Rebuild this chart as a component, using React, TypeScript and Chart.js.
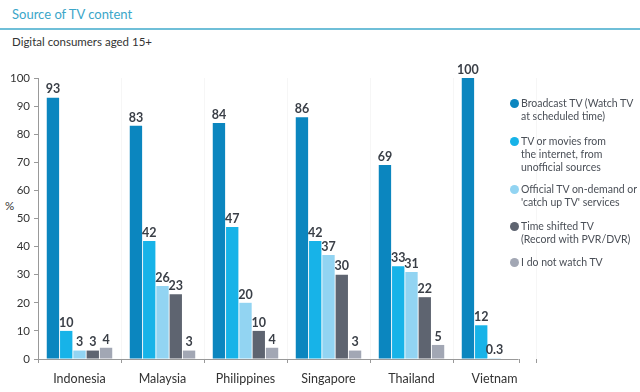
import React, { useEffect, useRef } from "react";
import { Chart, registerables } from "chart.js";
Chart.register(...registerables);

const categories = ["Indonesia", "Malaysia", "Philippines", "Singapore", "Thailand", "Vietnam"];
const seriesNames = [
  ["Broadcast TV (Watch TV", "at scheduled time)"],
  ["TV or movies from", "the internet, from", "unofficial sources"],
  ["Official TV on-demand or", "'catch up TV' services"],
  ["Time shifted TV", "(Record with PVR/DVR)"],
  ["I do not watch TV"],
];
const broadcast = [93, 83, 84, 86, 69, 100];
const internet = [10, 42, 47, 42, 33, 12];
const official = [3, 26, 20, 37, 31, 0.3];
const timeShifted = [3, 23, 10, 30, 22, null];
const notWatch = [4, 3, 4, 3, 5, null];
const colors = ["#0b86bf", "#17b3e8", "#92d4f2", "#5e6470", "#a2a7b4"];
const yTicks = [0, 10, 20, 30, 40, 50, 60, 70, 80, 90, 100];

const FONT = "Lato, 'Open Sans', sans-serif";

const labelPlugin = {
  id: "barLabels",
  afterDatasetsDraw(chart: any) {
    const ctx = chart.ctx;
    ctx.save();
    ctx.font = `bold 12.5px ${FONT}`;
    ctx.fillStyle = "#3a3f47";
    ctx.textAlign = "center";
    ctx.textBaseline = "bottom";
    chart.data.datasets.forEach((ds: any, i: number) => {
      const meta = chart.getDatasetMeta(i);
      meta.data.forEach((el: any, j: number) => {
        const v = ds.data[j];
        if (v === null || v === undefined) return;
        ctx.fillText(String(v), el.x, el.y - 2);
      });
    });
    // x axis baseline, stopping shortly after the last group
    const xs = chart.scales.x;
    const ca = chart.chartArea;
    const cw = xs.getPixelForValue(1) - xs.getPixelForValue(0);
    const end = xs.getPixelForValue(categories.length - 1) + cw * 0.29;
    ctx.strokeStyle = "#999";
    ctx.lineWidth = 1;
    ctx.beginPath();
    ctx.moveTo(ca.left, Math.round(ca.bottom) + 0.5);
    ctx.lineTo(end, Math.round(ca.bottom) + 0.5);
    ctx.moveTo(Math.round(end) + 0.5, ca.bottom);
    ctx.lineTo(Math.round(end) + 0.5, ca.bottom + 4);
    ctx.stroke();
    ctx.restore();
  },
};

export default function App() {
  const ref = useRef<HTMLCanvasElement>(null);
  useEffect(() => {
    const data = [broadcast, internet, official, timeShifted, notWatch];
    const chart = new Chart(ref.current!, {
      type: "bar",
      data: {
        labels: categories,
        datasets: data.map((d, i) => ({
          label: seriesNames[i].join(" "),
          data: d,
          backgroundColor: colors[i],
          categoryPercentage: 0.8,
          barPercentage: 0.93,
        })),
      },
      options: {
        animation: false,
        responsive: false,
        maintainAspectRatio: false,
        layout: { padding: { top: 28, right: 4, left: 0, bottom: 0 } },
        plugins: { legend: { display: false }, tooltip: { enabled: false } },
        scales: {
          x: {
            afterFit: (s: any) => { s.height = 33; },
            grid: {
              offset: true,
              drawOnChartArea: true,
              color: (c: any) => (c.index === categories.length ? "rgba(0,0,0,0)" : "rgba(0,0,0,0.035)"),
              tickColor: (c: any) => (c.index === categories.length ? "rgba(0,0,0,0)" : "#999"),
              tickLength: 4,
            },
            border: { display: false },
            ticks: { font: { family: FONT, size: 12.5 }, color: "#333", padding: 8 },
          },
          y: {
            min: 0,
            max: 100,
            afterFit: (s: any) => { s.width = 38; },
            afterBuildTicks: (s: any) => { s.ticks = yTicks.map((v) => ({ value: v })); },
            grid: { drawOnChartArea: false, tickLength: 4, tickColor: "#999" },
            border: { color: "#999" },
            ticks: { font: { family: FONT, size: 11.5 }, color: "#333", padding: 4 },
          },
        },
      },
      plugins: [labelPlugin],
    });
    return () => chart.destroy();
  }, []);

  const legendTop = [97, 135, 183, 220, 256];
  return (
    <div style={{ position: "absolute", left: 0, top: 0, width: 640, height: 392, background: "#fff", fontFamily: FONT, overflow: "hidden" }}>
      <div style={{ position: "absolute", left: 12, top: 6, fontSize: 13, color: "#3ba6c9" }}>Source of TV content</div>
      <div style={{ position: "absolute", left: 0, top: 28, width: 640, height: 2, background: "#6fbfd8" }} />
      <div style={{ position: "absolute", left: 12, top: 35, fontSize: 11.5, color: "#333" }}>Digital consumers aged 15+</div>
      <div style={{ position: "absolute", left: 5, top: 199, fontSize: 11.5, color: "#333" }}>%</div>
      <canvas ref={ref} width={540} height={342} style={{ position: "absolute", left: 0, top: 50 }} />
      {seriesNames.map((lines, i) => (
        <div key={i} style={{ position: "absolute", left: 521, top: legendTop[i], fontSize: 10.5, lineHeight: "13px", color: "#4a4f57" }}>
          <span style={{ position: "absolute", left: -11, top: 2, width: 9, height: 9, borderRadius: "50%", background: colors[i] }} />
          {lines.map((l, k) => (<div key={k} style={{ whiteSpace: "nowrap" }}>{l}</div>))}
        </div>
      ))}
    </div>
  );
}
